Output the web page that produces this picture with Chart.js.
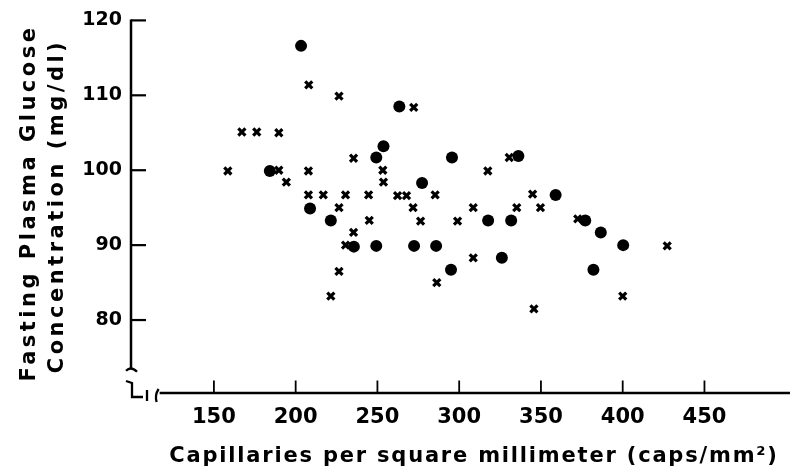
<!DOCTYPE html>
<html lang="en">
  <head>
    <meta charset="UTF-8" />
    <title>Capillaries vs fasting glucose</title>
    <script src="https://cdn.jsdelivr.net/npm/chart.js@4.4.0/dist/chart.umd.min.js"></script>
    <style>
      html, body { margin: 0; padding: 0; background: #fff; }
    </style>
  </head>
  <body>
    <canvas id="myChart" width="790" height="473"></canvas>
    <script>
      // filled circles: capillaries per mm2 / fasting glucose (mg/dl)
      var dotsX = [203.3, 184.2, 208.8, 221.5, 235.6, 263.4, 253.7, 249.3, 295.6, 336.2, 277.3, 317.7,
                   331.8, 249.3, 272.4, 285.9, 326.1, 295.0, 359.0, 377.1, 386.6, 400.3, 382.1];
      var dotsY = [116.6, 99.9, 94.9, 93.3, 89.8, 108.5, 103.2, 101.7, 101.7, 101.9, 98.3, 93.3,
                   93.3, 89.9, 89.9, 89.9, 88.3, 86.7, 96.7, 93.3, 91.7, 90.0, 86.7];
      // crosses
      var crossX = [208.0, 226.5, 167.1, 176.2, 189.7, 235.4, 158.5, 189.7, 194.3, 207.8, 207.8, 216.9,
                    230.5, 226.5, 235.4, 230.5, 226.5, 221.5, 272.2, 330.6, 253.3, 317.5, 253.7, 244.6,
                    262.3, 267.8, 285.3, 344.9, 271.8, 308.6, 335.2, 349.7, 245.0, 276.4, 299.0, 308.6,
                    286.3, 345.7, 372.5, 427.2, 400.0];
      var crossY = [111.4, 109.9, 105.1, 105.1, 105.0, 101.6, 99.9, 100.0, 98.4, 99.9, 96.7, 96.7,
                    96.7, 95.0, 91.7, 90.0, 86.5, 83.2, 108.4, 101.7, 100.0, 99.9, 98.4, 96.7,
                    96.6, 96.6, 96.7, 96.8, 95.0, 95.0, 95.0, 95.0, 93.3, 93.2, 93.2, 88.3,
                    85.0, 81.5, 93.5, 89.9, 83.2];
      var xTicks = [150, 200, 250, 300, 350, 400, 450];
      var yTicks = [80, 90, 100, 110, 120];
      var xTitle = "Capillaries per square millimeter (caps/mm\u00b2)";
      var yTitle = ["Fasting Plasma Glucose", "Concentration (mg/dl)"];

      var ink = "#000";
      var fam = "'DejaVu Sans', sans-serif";
      var xAxisStart = 116.8; // axis line begins after the break
      var yAxisEnd = 73.5;

      function toPoints(arx, ary) {
        var data = [];
        for (var i = 0; i < arx.length; i++) {
          data.push({ x: arx[i], y: ary[i] });
        }
        return data;
      }

      // axis lines, inward ticks, break marks and the titles
      var axisArt = {
        id: "axisArt",
        afterDraw: function (chart) {
          var ctx = chart.ctx;
          var xs = chart.scales.x, ys = chart.scales.y;
          var left = chart.chartArea.left, bottom = chart.chartArea.bottom;
          var yTop = ys.getPixelForValue(yTicks[yTicks.length - 1]);
          var yEnd = ys.getPixelForValue(yAxisEnd);
          var xStart = xs.getPixelForValue(xAxisStart);
          ctx.save();
          ctx.strokeStyle = ink;
          ctx.lineWidth = 2.5;
          ctx.beginPath();
          ctx.moveTo(left, yTop - 1);
          ctx.lineTo(left, yEnd);
          ctx.stroke();
          ctx.lineWidth = 2.2;
          yTicks.forEach(function (v) {
            var p = ys.getPixelForValue(v);
            ctx.beginPath();
            ctx.moveTo(left, p);
            ctx.lineTo(left + 15, p);
            ctx.stroke();
          });
          ctx.lineWidth = 2.3;
          ctx.beginPath();
          ctx.moveTo(xStart, bottom);
          ctx.lineTo(chart.width, bottom);
          ctx.stroke();
          ctx.lineWidth = 1.8;
          xTicks.forEach(function (v) {
            var p = xs.getPixelForValue(v);
            ctx.beginPath();
            ctx.moveTo(p, bottom);
            ctx.lineTo(p, bottom - 12.5);
            ctx.stroke();
          });
          // break marks
          ctx.lineWidth = 2.3;
          ctx.beginPath();
          ctx.moveTo(left - 5, yEnd + 2);
          ctx.quadraticCurveTo(left, yEnd - 3, left + 6, yEnd + 3);
          ctx.stroke();
          ctx.beginPath();
          ctx.moveTo(left - 5, bottom - 12);
          ctx.lineTo(left + 1, bottom - 10);
          ctx.lineTo(left + 1, bottom + 4);
          ctx.lineTo(left + 12, bottom + 4);
          ctx.stroke();
          ctx.beginPath();
          ctx.moveTo(left + 16, bottom - 3);
          ctx.lineTo(left + 16, bottom + 8);
          ctx.stroke();
          ctx.beginPath();
          ctx.moveTo(xStart - 1, bottom - 4);
          ctx.quadraticCurveTo(xStart - 5, bottom + 2, xStart - 3, bottom + 9);
          ctx.stroke();

          ctx.fillStyle = ink;
          ctx.textAlign = "center";
          ctx.textBaseline = "alphabetic";
          ctx.font = "bold 21px " + fam;
          ctx.letterSpacing = "3.5px";
          ctx.save();
          ctx.translate(35, 203);
          ctx.rotate(-Math.PI / 2);
          ctx.fillText(yTitle[0], 0, 0);
          ctx.restore();
          ctx.save();
          ctx.translate(63, 206);
          ctx.rotate(-Math.PI / 2);
          ctx.fillText(yTitle[1], 0, 0);
          ctx.restore();
          ctx.letterSpacing = "1.8px";
          ctx.fillText(xTitle, 474, 462);
          ctx.restore();
        }
      };

      var grafica = new Chart(document.getElementById("myChart"), {
        type: "scatter",
        data: {
          datasets: [
            {
              label: "circles",
              data: toPoints(dotsX, dotsY),
              pointStyle: "circle",
              pointRadius: 6,
              backgroundColor: ink,
              borderColor: ink,
              borderWidth: 0,
            },
            {
              label: "crosses",
              data: toPoints(crossX, crossY),
              pointStyle: "crossRot",
              pointRadius: 5,
              borderWidth: 3.2,
              borderColor: ink,
              backgroundColor: ink,
            },
          ],
        },
        options: {
          responsive: false,
          animation: false,
          layout: { padding: { top: 15, left: 0, right: 0, bottom: 0 } },
          plugins: { legend: { display: false }, tooltip: { enabled: false } },
          scales: {
            x: {
              type: "linear",
              min: 99.3,
              max: 497.3,
              afterBuildTicks: function (s) {
                s.ticks = xTicks.map(function (v) { return { value: v }; });
              },
              afterFit: function (s) { s.height = 80; },
              grid: { display: false, drawTicks: false },
              border: { display: false },
              ticks: { padding: 12, color: ink, font: { family: fam, size: 21, weight: "bold" } },
            },
            y: {
              type: "linear",
              min: 70.26,
              max: 120,
              afterBuildTicks: function (s) {
                s.ticks = yTicks.map(function (v) { return { value: v }; });
              },
              afterFit: function (s) { s.width = 131; },
              grid: { display: false, drawTicks: false },
              border: { display: false },
              ticks: { padding: 9, color: ink, font: { family: fam, size: 19, weight: "bold" } },
            },
          },
        },
        plugins: [axisArt],
      });
    </script>
  </body>
</html>
